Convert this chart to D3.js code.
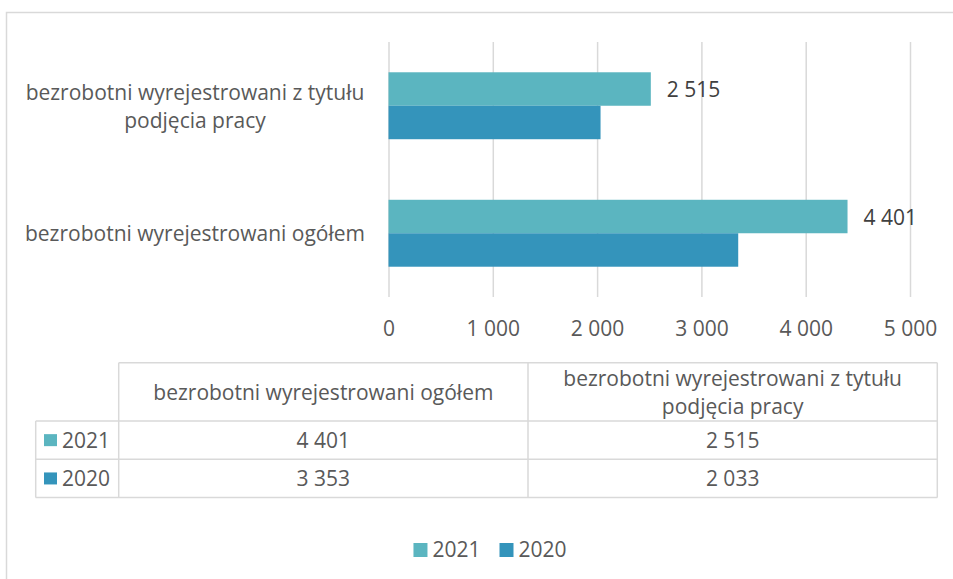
<!DOCTYPE html>
<html>
<head>
<meta charset="utf-8">
<script src="https://cdn.jsdelivr.net/npm/d3@7"></script>
<style>
  body { margin: 0; background: #fff; }
  svg { display: block; font-family: "Open Sans", sans-serif; }
</style>
</head>
<body>
<div id="chart"></div>
<script>
// data
var categories = ["bezrobotni wyrejestrowani ogółem", "bezrobotni wyrejestrowani z tytułu podjęcia pracy"];
var seriesNames = ["2021", "2020"];
var values2021 = [4401, 2515];
var values2020 = [3353, 2033];
var xTicks = [0, 1000, 2000, 3000, 4000, 5000];
var seriesColors = ["#5bb5c0", "#3494bb"];

var width = 953, height = 579;
var fontSize = 21;
var textColor = "#595959", gridColor = "#d9d9d9";

var pl = d3.formatLocale({decimal: ",", thousands: " ", grouping: [3], currency: ["", " zł"]});
var fmt = pl.format(",d");

var seriesValues = [values2021, values2020];
var bars = [];
categories.forEach(function(c, i) {
  seriesNames.forEach(function(s, j) {
    bars.push({cat: c, series: s, value: seriesValues[j][i], color: seriesColors[j]});
  });
});

var svg = d3.select("#chart").append("svg")
  .attr("width", width)
  .attr("height", height);

// chart frame (runs off the right and bottom of the picture)
svg.append("rect")
  .attr("x", 6.5).attr("y", 12.5)
  .attr("width", 1000).attr("height", 700)
  .attr("fill", "none")
  .attr("stroke", gridColor)
  .attr("stroke-width", 1.5);

var plotTop = 42, plotBottom = 297;
var x = d3.scaleLinear().domain([0, 5000]).range([388.5, 910]);
// excel puts the first category at the bottom
var y = d3.scaleBand()
  .domain(categories.slice().reverse())
  .range([plotTop, plotBottom])
  .paddingInner(0.475)
  .paddingOuter(0.2375);
var ySeries = d3.scaleBand().domain(seriesNames).range([0, y.bandwidth()]);

// gridlines + tick labels
var xAxis = svg.append("g")
  .attr("transform", "translate(0," + plotBottom + ")")
  .call(d3.axisBottom(x).tickValues(xTicks).tickSize(-(plotBottom - plotTop)).tickFormat(fmt));
xAxis.select(".domain").remove();
xAxis.selectAll(".tick line").attr("stroke", gridColor).attr("stroke-width", 1.5);
xAxis.selectAll(".tick text")
  .attr("y", 38.5).attr("dy", 0)
  .attr("fill", textColor)
  .style("font-size", fontSize + "px")
  .style("font-family", "'Open Sans', sans-serif");

// bars
svg.append("g").selectAll("rect")
  .data(bars)
  .enter()
  .append("rect")
  .attr("x", x(0))
  .attr("y", function(d) { return y(d.cat) + ySeries(d.series); })
  .attr("width", function(d) { return x(d.value) - x(0); })
  .attr("height", ySeries.bandwidth())
  .attr("fill", function(d) { return d.color; });

// data labels only on 2021
svg.append("g").selectAll("text")
  .data(bars.filter(function(d) { return d.series === "2021"; }))
  .enter()
  .append("text")
  .attr("x", function(d) { return x(d.value) + 16; })
  .attr("y", function(d) { return y(d.cat) + ySeries(d.series) + ySeries.bandwidth() / 2 + 8; })
  .attr("fill", "#404040")
  .style("font-size", fontSize + "px")
  .text(function(d) { return fmt(d.value); });

// word wrap helper, returns the lines
function wrapLines(str, maxW) {
  var probe = svg.append("text").style("font-size", fontSize + "px");
  var words = str.split(" "), lines = [], line = [];
  words.forEach(function(w) {
    line.push(w);
    probe.text(line.join(" "));
    if (probe.node().getComputedTextLength() > maxW && line.length > 1) {
      line.pop();
      lines.push(line.join(" "));
      line = [w];
    }
  });
  lines.push(line.join(" "));
  probe.remove();
  return lines;
}

function multiText(g, str, cx, cy, maxW, lh) {
  var lines = wrapLines(str, maxW);
  var t = g.append("text")
    .attr("text-anchor", "middle")
    .attr("fill", textColor)
    .style("font-size", fontSize + "px");
  lines.forEach(function(l, i) {
    t.append("tspan")
      .attr("x", cx)
      .attr("y", cy + 8 - (lines.length - 1) * lh / 2 + i * lh)
      .text(l);
  });
}

// category labels
var catG = svg.append("g");
categories.forEach(function(c) {
  multiText(catG, c, 195, y(c) + y.bandwidth() / 2, 372, 28.5);
});

// data table
var tLeft = 35.7, tLabelRight = 118.7, tRight = 937.3;
var tHeadTop = 362.7, tRowTop = 421, rowH = 38.3;
var colX = d3.scaleBand().domain(categories).range([tLabelRight, tRight]);
var tBottom = tRowTop + rowH * seriesNames.length;

var tg = svg.append("g")
  .attr("stroke", gridColor)
  .attr("stroke-width", 1.5);
tg.append("line").attr("x1", tLabelRight).attr("x2", tRight).attr("y1", tHeadTop).attr("y2", tHeadTop);
seriesNames.concat(["end"]).forEach(function(s, i) {
  var yy = tRowTop + i * rowH;
  tg.append("line").attr("x1", tLeft).attr("x2", tRight).attr("y1", yy).attr("y2", yy);
});
tg.append("line").attr("x1", tLeft).attr("x2", tLeft).attr("y1", tRowTop).attr("y2", tBottom);
categories.forEach(function(c) {
  tg.append("line").attr("x1", colX(c)).attr("x2", colX(c)).attr("y1", tHeadTop).attr("y2", tBottom);
});
tg.append("line").attr("x1", tRight).attr("x2", tRight).attr("y1", tHeadTop).attr("y2", tBottom);

var headG = svg.append("g");
categories.forEach(function(c) {
  multiText(headG, c, colX(c) + colX.bandwidth() / 2, (tHeadTop + tRowTop) / 2, 385, 27.5);
});

seriesNames.forEach(function(s, j) {
  var cy = tRowTop + j * rowH + rowH / 2;
  svg.append("rect")
    .attr("x", 44).attr("y", cy - 6)
    .attr("width", 13).attr("height", 12)
    .attr("fill", seriesColors[j]);
  svg.append("text")
    .attr("x", 62).attr("y", cy + 8)
    .attr("fill", textColor)
    .style("font-size", fontSize + "px")
    .text(s);
  categories.forEach(function(c, i) {
    svg.append("text")
      .attr("x", colX(c) + colX.bandwidth() / 2)
      .attr("y", cy + 8)
      .attr("text-anchor", "middle")
      .attr("fill", textColor)
      .style("font-size", fontSize + "px")
      .text(fmt(seriesValues[j][i]));
  });
});

// legend at the bottom
var legend = svg.append("g");
var items = legend.selectAll("g")
  .data(seriesNames)
  .enter()
  .append("g");
items.append("rect")
  .attr("y", 543)
  .attr("width", 14).attr("height", 14)
  .attr("fill", function(d, i) { return seriesColors[i]; });
items.append("text")
  .attr("x", 19).attr("y", 557)
  .attr("fill", textColor)
  .style("font-size", fontSize + "px")
  .text(String);
var offset = 0, widths = [];
items.each(function() {
  var w = this.getBBox().width;
  widths.push(w);
});
var total = d3.sum(widths) + 19 * (widths.length - 1);
offset = 490 - total / 2;
items.attr("transform", function(d, i) {
  var o = offset;
  offset += widths[i] + 19;
  return "translate(" + o + ",0)";
});
</script>
</body>
</html>
